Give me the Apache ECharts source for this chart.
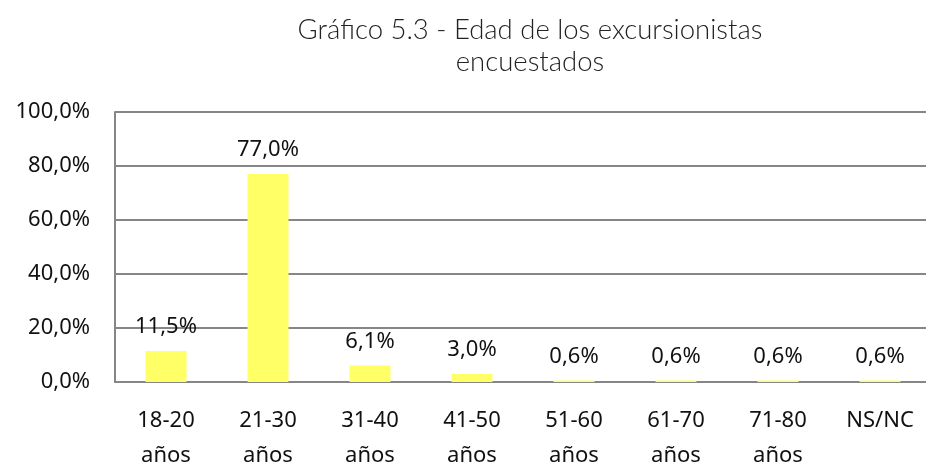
<!DOCTYPE html>
<html>
<head>
<meta charset="utf-8">
<script src="https://cdn.jsdelivr.net/npm/echarts@6/dist/echarts.min.js"></script>
<style>
  html, body { margin: 0; padding: 0; background: #fff; }
  #chart { width: 926px; height: 462px; }
</style>
</head>
<body>
<div id="chart"></div>
<script>
var categorias = ['18-20\naños', '21-30\naños', '31-40\naños', '41-50\naños', '51-60\naños', '61-70\naños', '71-80\naños', 'NS/NC'];
var porcentajes = [11.5, 77.0, 6.1, 3.0, 0.6, 0.6, 0.6, 0.6];
var ticksY = [0, 20, 40, 60, 80, 100];

function fmt(v) {
    return v.toFixed(1).replace('.', ',') + '%';
}

var chart = echarts.init(document.getElementById('chart'));
var option = {
    backgroundColor: '#fff',
    title: {
        text: 'Gráfico 5.3 - Edad de los excursionistas\nencuestados',
        left: 525,
        textAlign: 'center',
        top: 9,
        textStyle: {
            fontFamily: 'Lato',
            fontWeight: 300,
            fontSize: 27.5,
            lineHeight: 32,
            color: '#222'
        }
    },
    grid: { left: 115, top: 112, width: 816, height: 270, outerBoundsMode: 'none', containLabel: false },
    xAxis: {
        type: 'category',
        data: categorias,
        axisLine: { lineStyle: { color: '#868686', width: 2 } },
        axisTick: { show: false },
        axisLabel: {
            margin: 21,
            fontFamily: 'Noto Sans',
            fontSize: 22,
            lineHeight: 35,
            color: '#111'
        }
    },
    yAxis: {
        type: 'value',
        min: ticksY[0],
        max: ticksY[ticksY.length - 1],
        interval: 20,
        axisLine: { show: true, lineStyle: { color: '#868686', width: 2 } },
        axisTick: { show: false },
        splitLine: { lineStyle: { color: '#868686', width: 2 } },
        axisLabel: {
            margin: 25,
            fontFamily: 'Noto Sans',
            fontSize: 22,
            color: '#111',
            formatter: function (v) { return fmt(v); }
        }
    },
    series: [{
        type: 'bar',
        data: porcentajes,
        barWidth: 41,
        itemStyle: { color: '#ffff66' },
        label: {
            show: true,
            position: 'top',
            distance: 13,
            fontFamily: 'Noto Sans',
            fontSize: 22,
            color: '#111',
            formatter: function (p) { return fmt(p.value); }
        }
    }]
};
chart.setOption(option);
</script>
</body>
</html>
